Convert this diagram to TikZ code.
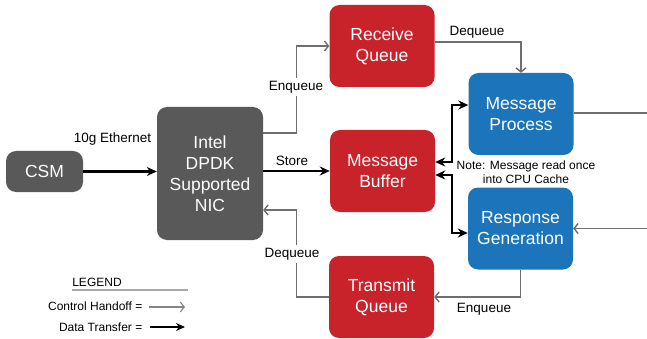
\documentclass[tikz,border=0pt]{standalone}
\usepackage{fontspec}
\setmainfont{Liberation Sans}
\usetikzlibrary{arrows.meta}
\definecolor{boxgray}{HTML}{595959}
\definecolor{boxred}{HTML}{C8222B}
\definecolor{boxblue}{HTML}{1C75BB}
\definecolor{linegray}{HTML}{6E6E6E}
\definecolor{rulegray}{HTML}{A8A8A8}
\tikzset{
  block/.style={rectangle, rounded corners=10pt, inner sep=0pt, text=white,
    align=center, font=\fontsize{17.5}{21}\selectfont},
  csmbox/.style={block, fill=boxgray, minimum width=77pt, minimum height=41pt},
  nicbox/.style={block, fill=boxgray, minimum width=106pt, minimum height=133pt},
  queuebox/.style={block, fill=boxred, minimum width=105pt, minimum height=82pt},
  procbox/.style={block, fill=boxblue, minimum width=105pt, minimum height=82pt},
  lbl/.style={font=\fontsize{13.5}{16}\selectfont, inner sep=1pt},
  small/.style={font=\fontsize{12}{14}\selectfont, inner sep=1pt, align=center},
  ctrl/.style={draw=linegray, line width=1.4pt, -{Straight Barb[length=4pt,width=10pt]}},
  data/.style={draw=black, line width=2.3pt, -{Stealth[length=10pt,width=9pt]}},
}
\begin{document}
\begin{tikzpicture}[x=1pt,y=-1pt]
\useasboundingbox (0,0) rectangle (647,339);

% blocks
\node[csmbox]   (csm) at (44.5,171.5) {CSM};
\node[nicbox]   (nic) at (210,173.5)  {Intel\\DPDK\\Supported\\NIC};
\node[queuebox] (rq)  at (382,46)     {Receive\\Queue};
\node[queuebox] (mb)  at (382.5,171)  {Message\\Buffer};
\node[queuebox] (tq)  at (381.5,297)  {Transmit\\Queue};
\node[procbox]  (mp)  at (521,114)    {Message\\Process};
\node[procbox]  (rg)  at (520.5,228.5){Response\\Generation};

% data transfers
\draw[data] (csm.east) -- (csm.east -| nic.west);
\node[lbl] at (112.5,139) {10g Ethernet};
\draw[data] (nic.east |- mb.west) -- (mb.west);
\node[lbl] at (292,161) {Store};
\draw[data,{Stealth[length=10pt,width=9pt]}-{Stealth[length=10pt,width=9pt]}]
  ([yshift=9pt]mb.east) -- ++(17,0) |- ([yshift=9pt]mp.west);
\draw[data,{Stealth[length=10pt,width=9pt]}-{Stealth[length=10pt,width=9pt]}]
  ([yshift=-4pt]mb.east) -- ++(17,0) |- ([yshift=-4.5pt]rg.west);
\node[small] at (526,172) {Note: Message read once\\into CPU Cache};

% control handoffs
\draw[ctrl] ([yshift=40.5pt]nic.east) -| ([xshift=-33pt]rq.west) -- (rq.west);
\node[lbl, fill=white, inner sep=3pt] at (296,87) {Enqueue};
\draw[ctrl] ([yshift=4pt]rq.east) -| (mp.north);
\node[lbl] at (477,32) {Dequeue};
\draw[ctrl] ([yshift=1pt]mp.east) -- ++(74,0) |- (rg.east);
\draw[ctrl] (rg.south) |- (tq.east);
\node[lbl] at (484,309) {Enqueue};
\draw[ctrl] (tq.west) -| ([xshift=33pt,yshift=-36.5pt]nic.east) -- ([yshift=-36.5pt]nic.east);
\node[lbl, fill=white, inner sep=3pt] at (292,254) {Dequeue};

% legend
\node[small] (legend) at (97,282) {LEGEND};
\coordinate (ruleL) at (72,290);
\coordinate (ruleR) at (188,290);
\draw[rulegray, line width=1.2pt] (ruleL) -- (ruleR);
\node[small, anchor=east] (lgctrl) at (143.5,306) {Control Handoff =};
\node[small, anchor=east] (lgdata) at (143.5,327) {Data Transfer =};
\coordinate (ctrlA) at (149,307);
\coordinate (ctrlB) at (185,307);
\coordinate (dataA) at (150,327);
\coordinate (dataB) at (185,327);
\draw[ctrl, draw=rulegray!80!black, line width=1.1pt] (ctrlA) -- (ctrlB);
\draw[data, line width=1.8pt, -{Stealth[length=9pt,width=8pt]}] (dataA) -- (dataB);
\end{tikzpicture}
\end{document}
